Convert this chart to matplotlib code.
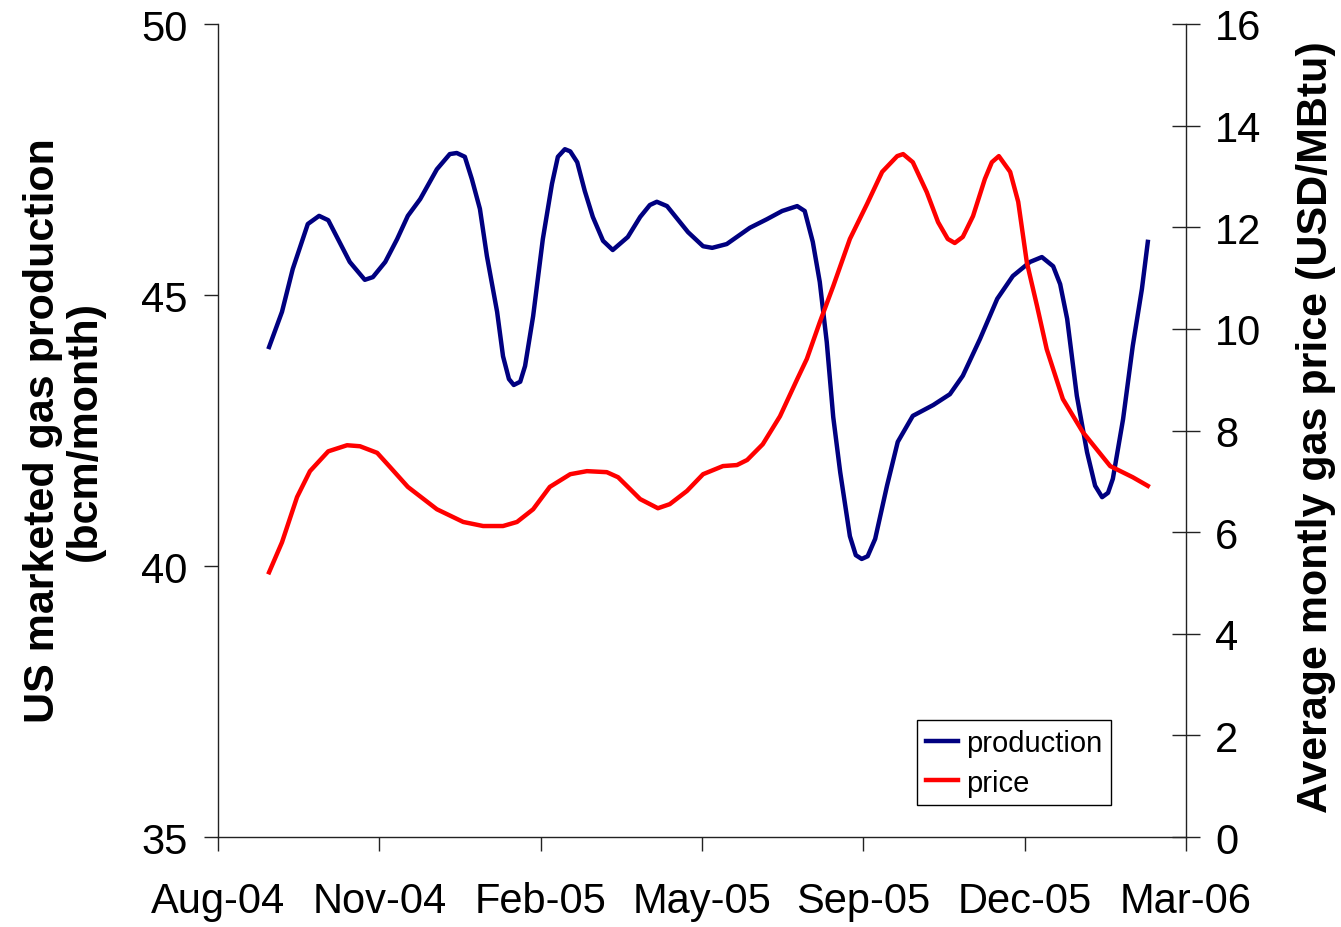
import matplotlib
matplotlib.use("Agg")
import matplotlib.pyplot as plt

# ------------------------------------------------------------
#  Data (x in months from Aug-04)
# ------------------------------------------------------------
tick_labels = ["Aug-04", "Nov-04", "Feb-05", "May-05", "Sep-05", "Dec-05", "Mar-06"]
tick_pos = [0, 3, 6, 9, 12, 15, 18]

prod_x = [0.95, 1.19, 1.39, 1.67, 1.88, 2.05, 2.45, 2.73, 2.88, 3.11, 3.33, 3.53,
          3.76, 4.07, 4.31, 4.44, 4.59, 4.72, 4.87, 5.00, 5.19, 5.30, 5.41, 5.50,
          5.62, 5.71, 5.86, 6.04, 6.21, 6.32, 6.45, 6.55, 6.68, 6.82, 6.97, 7.16,
          7.34, 7.62, 7.85, 8.03, 8.16, 8.35, 8.74, 9.02, 9.19, 9.46, 9.89, 10.21,
          10.49, 10.77, 10.91, 11.06, 11.19, 11.32, 11.44, 11.57, 11.75, 11.86, 11.97,
          12.08, 12.22, 12.44, 12.64, 12.92, 13.30, 13.61, 13.85, 14.17, 14.49, 14.78,
          15.10, 15.32, 15.53, 15.66, 15.79, 15.97, 16.16, 16.31, 16.44, 16.55, 16.64,
          16.83, 17.01, 17.18, 17.29]
prod_val = [44.04, 44.69, 45.48, 46.31, 46.46, 46.38, 45.61, 45.28, 45.33, 45.61, 46.03, 46.46,
            46.77, 47.32, 47.60, 47.62, 47.55, 47.14, 46.59, 45.72, 44.69, 43.87, 43.45, 43.34,
            43.40, 43.69, 44.61, 46.03, 47.05, 47.55, 47.69, 47.65, 47.45, 46.92, 46.44, 46.00,
            45.83, 46.07, 46.44, 46.66, 46.72, 46.64, 46.16, 45.90, 45.87, 45.94, 46.24, 46.40,
            46.55, 46.64, 46.55, 45.98, 45.24, 44.13, 42.75, 41.73, 40.55, 40.20, 40.13,
            40.18, 40.50, 41.48, 42.29, 42.77, 42.97, 43.17, 43.51, 44.19, 44.93, 45.35,
            45.61, 45.70, 45.53, 45.20, 44.56, 43.14, 42.10, 41.48, 41.27, 41.35, 41.61,
            42.71, 44.06, 45.11, 45.98]

price_x = [0.95, 1.19, 1.47, 1.71, 2.05, 2.40, 2.64, 2.96, 3.20, 3.53, 4.07, 4.56,
           4.93, 5.30, 5.56, 5.86, 6.17, 6.55, 6.86, 7.23, 7.44, 7.66, 7.85, 8.18,
           8.40, 8.72, 9.02, 9.39, 9.65, 9.84, 10.13, 10.45, 10.77, 10.95, 11.19, 11.44,
           11.75, 12.07, 12.35, 12.63, 12.74, 12.92, 13.18, 13.39, 13.57, 13.70, 13.85,
           14.04, 14.26, 14.39, 14.52, 14.73, 14.88, 15.04, 15.23, 15.41, 15.71, 16.08,
           16.59, 17.01, 17.29]
price_val = [5.21, 5.80, 6.69, 7.20, 7.59, 7.71, 7.69, 7.56, 7.28, 6.89, 6.45, 6.20,
             6.12, 6.12, 6.20, 6.45, 6.89, 7.14, 7.20, 7.18, 7.08, 6.85, 6.65, 6.47,
             6.55, 6.81, 7.14, 7.30, 7.32, 7.42, 7.73, 8.28, 9.01, 9.41, 10.13, 10.84,
             11.77, 12.46, 13.09, 13.40, 13.44, 13.28, 12.69, 12.10, 11.77, 11.69, 11.81,
             12.22, 12.95, 13.28, 13.40, 13.09, 12.50, 11.31, 10.45, 9.60, 8.62, 7.97,
             7.30, 7.08, 6.91]

# ------------------------------------------------------------
#  Style
# ------------------------------------------------------------
plt.rcParams["font.family"] = ["Liberation Sans", "DejaVu Sans"]
TICK_FS = 30
LABEL_FS = 31

fig = plt.figure(figsize=(13.41, 9.28), dpi=100)
ax = fig.add_axes([218 / 1341, 1 - 838 / 928, 968 / 1341, 813 / 928])
ax2 = ax.twinx()

l1, = ax.plot(prod_x, prod_val, color="#000080", linewidth=3.2,
              solid_joinstyle="round", label="production")
l2, = ax2.plot(price_x, price_val, color="#ff0000", linewidth=3.2,
               solid_joinstyle="round", label="price")

ax.set_xlim(0, 18)
ax.set_ylim(35, 50)
ax2.set_ylim(0, 16)
ax.set_xticks(tick_pos)
ax.set_xticklabels(tick_labels)
ax.set_yticks([35, 40, 45, 50])
ax2.set_yticks(range(0, 17, 2))

for a in (ax, ax2):
    a.spines["top"].set_visible(False)
    for s in a.spines.values():
        s.set_linewidth(1.0)
        s.set_color("#222222")
ax.spines["right"].set_visible(False)
ax2.spines["left"].set_visible(False)
ax2.spines["bottom"].set_visible(False)

ax.tick_params(axis="x", direction="out", length=10, width=1, pad=22,
               labelsize=TICK_FS, color="#222222")
ax.tick_params(axis="y", direction="out", length=10, width=1, pad=12,
               labelsize=TICK_FS, color="#222222")
ax2.tick_params(axis="y", direction="inout", length=20, width=1, pad=11,
                labelsize=TICK_FS, color="#222222")

fig.text(64 / 1341, 1 - 431 / 928,
         "US marketed gas production\n(bcm/month)",
         rotation=90, ha="center", va="center", fontsize=LABEL_FS,
         fontweight="bold", linespacing=1.05)
fig.text(1316 / 1341, 1 - 427 / 928,
         "Average montly gas price (USD/MBtu)",
         rotation=90, ha="center", va="center", fontsize=LABEL_FS,
         fontweight="bold")

leg = ax2.legend([l1, l2], ["production", "price"], loc="lower left",
                 bbox_to_anchor=(0.722, 0.039), borderaxespad=0,
                 fontsize=21, fancybox=False, framealpha=1, edgecolor="black",
                 handlelength=1.1, handletextpad=0.3, labelspacing=0.4,
                 borderpad=0.3)
leg.get_frame().set_linewidth(1.0)

fig.savefig("out.png", dpi=100)
